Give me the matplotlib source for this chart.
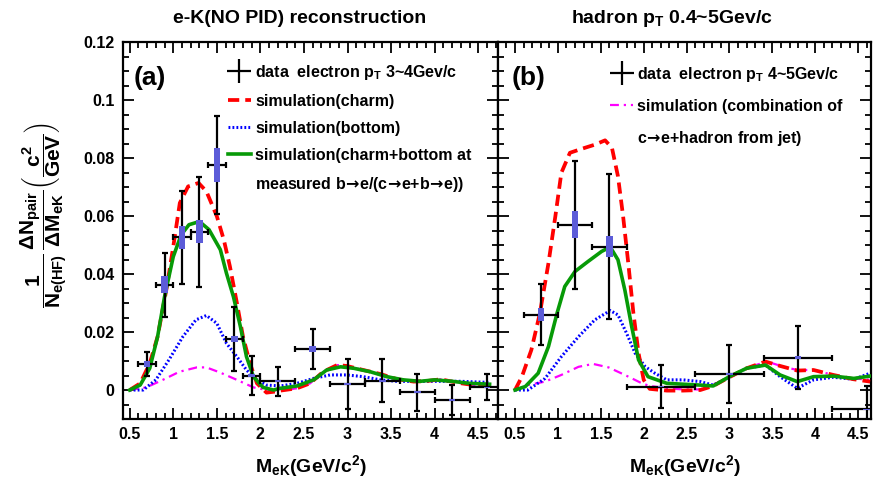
import numpy as np
import matplotlib
matplotlib.use('Agg')
import matplotlib.pyplot as plt
from matplotlib.lines import Line2D
from matplotlib.ticker import MultipleLocator, FuncFormatter

plt.rcParams['font.family'] = ['Liberation Sans', 'DejaVu Sans']
plt.rcParams['font.weight'] = 'bold'
plt.rcParams['axes.labelweight'] = 'bold'
plt.rcParams['mathtext.fontset'] = 'custom'
plt.rcParams['mathtext.rm'] = 'Liberation Sans:bold'
plt.rcParams['mathtext.it'] = 'Liberation Sans:bold'
plt.rcParams['mathtext.bf'] = 'Liberation Sans:bold'
plt.rcParams['mathtext.sf'] = 'DejaVu Sans'

# ---- panel (a): electron pT 3~4 GeV/c ----
x_a = [0.7, 0.9, 1.1, 1.3, 1.5, 1.7, 1.9, 2.2, 2.6, 3.0, 3.4, 3.8, 4.2, 4.6]
y_a = [0.0090, 0.0363, 0.0527, 0.0546, 0.0776, 0.0176, 0.0050, 0.0031,
       0.0141, 0.0020, 0.0032, -0.0008, -0.0035, 0.0009]
yerr_a = [0.004, 0.011, 0.016, 0.019, 0.017, 0.011, 0.0067, 0.005,
          0.007, 0.0087, 0.0074, 0.0064, 0.0052, 0.0045]
xerr_a = [0.1, 0.1, 0.1, 0.1, 0.1, 0.1, 0.1, 0.2, 0.2, 0.2, 0.2, 0.2, 0.2, 0.2]
sys_a = [0.001, 0.003, 0.004, 0.004, 0.0057, 0.001, 0.0005, 0.0004,
         0.001, 0.0003, 0.0003, 0.0003, 0.0003, 0.0003]

charm_xa = [0.5, 0.62, 0.73, 0.82, 0.92, 1.0, 1.075, 1.17, 1.29, 1.38, 1.5, 1.58,
            1.65, 1.73, 1.8, 1.88, 1.96, 2.07, 2.18, 2.23, 2.42, 2.57, 2.72, 2.88,
            2.99, 3.18, 3.38, 3.57, 3.76, 3.91, 4.07, 4.26, 4.45, 4.63]
charm_ya = [0, 0.0023, 0.0092, 0.0184, 0.0345, 0.0495, 0.0645, 0.0702, 0.0714,
            0.0685, 0.0599, 0.0518, 0.0426, 0.030, 0.0184, 0.0092, 0.0023, -0.0009,
            -0.0005, -0.0002, 0.0006, 0.0023, 0.0063, 0.0086, 0.0083, 0.0069,
            0.0055, 0.0037, 0.0029, 0.0031, 0.0037, 0.0025, 0.0017, 0.0017]
bottom_xa = [0.5, 0.655, 0.80, 0.95, 1.11, 1.26, 1.38, 1.5, 1.61, 1.73, 1.84, 1.96,
             2.07, 2.23, 2.42, 2.61, 2.8, 2.99, 3.18, 3.38, 3.57, 3.76, 4.0, 4.3, 4.63]
bottom_ya = [0, 0, 0.0035, 0.0104, 0.0184, 0.0242, 0.0257, 0.023, 0.0161, 0.0115,
             0.0069, 0.0035, 0.0017, 0.0014, 0.0023, 0.004, 0.0052, 0.0052, 0.0046,
             0.0035, 0.003, 0.003, 0.003, 0.003, 0.0026]
comb_xa = [0.5, 0.62, 0.73, 0.82, 0.90, 1.0, 1.09, 1.18, 1.30, 1.41, 1.54, 1.61,
           1.69, 1.77, 1.84, 1.92, 2.03, 2.15, 2.23, 2.42, 2.61, 2.76, 2.92, 3.07,
           3.26, 3.45, 3.64, 3.83, 4.0, 4.2, 4.4, 4.63]
comb_ya = [0, 0.0017, 0.0075, 0.0184, 0.0322, 0.046, 0.0535, 0.057, 0.0581, 0.0553,
           0.0484, 0.0403, 0.0322, 0.0219, 0.0115, 0.0046, 0.0009, 0.0, 0.0006,
           0.0014, 0.0035, 0.0069, 0.008, 0.0075, 0.0063, 0.0046, 0.0035, 0.003,
           0.0035, 0.003, 0.0023, 0.002]
jet_xa = [0.5, 0.69, 0.88, 1.07, 1.27, 1.38, 1.54, 1.73, 1.92, 2.07, 2.23, 2.42,
          2.57, 2.72, 2.88, 2.99, 3.18, 3.38, 3.57, 3.76, 3.91, 4.07, 4.26, 4.45, 4.63]
jet_ya = [0, 0.0009, 0.0035, 0.0063, 0.0078, 0.0078, 0.006, 0.0035, 0.0009, 0.0,
          -0.0002, 0.0006, 0.0023, 0.0063, 0.0086, 0.0083, 0.0069, 0.0055, 0.0037,
          0.0029, 0.0031, 0.0037, 0.0025, 0.0017, 0.0017]

# ---- panel (b): electron pT 4~5 GeV/c ----
x_b = [0.8, 1.2, 1.6, 2.2, 3.0, 3.8, 4.6]
y_b = [0.026, 0.057, 0.0494, 0.0012, 0.0056, 0.0112, -0.0067]
yerr_b = [0.0105, 0.022, 0.025, 0.0073, 0.010, 0.011, 0.008]
xerr_b = [0.2, 0.2, 0.2, 0.4, 0.4, 0.4, 0.4]
sys_b = [0.0023, 0.0046, 0.0037, 0.0003, 0.0004, 0.0005, 0.0003]

charm_xb = [0.5, 0.58, 0.69, 0.79, 0.89, 0.97, 1.04, 1.14, 1.28, 1.43, 1.55, 1.63,
            1.70, 1.76, 1.82, 1.88, 1.94, 2.0, 2.07, 2.27, 2.46, 2.66, 2.81, 3.01,
            3.2, 3.42, 3.59, 3.79, 3.98, 4.21, 4.45, 4.64]
charm_yb = [0, 0.0046, 0.0138, 0.0265, 0.0438, 0.0599, 0.0749, 0.0818, 0.0832,
            0.0846, 0.0861, 0.0835, 0.0737, 0.0599, 0.0438, 0.0265, 0.0127, 0.0035,
            0.0004, -0.0002, -0.0002, 0.0, 0.0014, 0.0046, 0.0075, 0.0098, 0.0083,
            0.0067, 0.0069, 0.0052, 0.0037, 0.0029]
bottom_xb = [0.5, 0.65, 0.85, 1.04, 1.24, 1.43, 1.61, 1.70, 1.80, 1.90, 2.02, 2.13,
             2.27, 2.46, 2.66, 2.81, 3.01, 3.2, 3.42, 3.59, 3.79, 3.98, 4.21, 4.45, 4.64]
bottom_yb = [0, 0, 0.004, 0.0115, 0.0184, 0.0242, 0.0274, 0.0259, 0.0196, 0.0127,
             0.008, 0.0058, 0.0035, 0.0035, 0.0029, 0.0017, 0.0046, 0.0075, 0.0086,
             0.0046, 0.0006, 0.0035, 0.0044, 0.0037, 0.0058]
comb_xb = [0.5, 0.62, 0.77, 0.89, 0.99, 1.08, 1.2, 1.35, 1.51, 1.61, 1.70, 1.78,
           1.86, 1.94, 2.05, 2.27, 2.46, 2.66, 2.81, 3.01, 3.2, 3.42, 3.59, 3.79,
           3.98, 4.21, 4.45, 4.64]
comb_yb = [0, 0.0012, 0.0058, 0.015, 0.0265, 0.0357, 0.0409, 0.0443, 0.0478, 0.0493,
           0.0449, 0.0345, 0.0219, 0.0104, 0.0046, 0.0023, 0.002, 0.0017, 0.0014,
           0.0048, 0.0075, 0.0086, 0.0052, 0.0029, 0.0046, 0.0048, 0.004, 0.0048]
jet_xb = [0.5, 0.65, 0.85, 1.04, 1.24, 1.41, 1.59, 1.78, 1.98, 2.07, 2.27, 2.46,
          2.66, 2.85, 3.05, 3.24, 3.44, 3.63, 3.79, 3.98, 4.21, 4.45, 4.64]
jet_yb = [0, 0.0017, 0.0029, 0.0052, 0.008, 0.009, 0.0078, 0.0052, 0.0023, 0.0014,
          0.0006, 0.0002, 0.0002, 0.0023, 0.0052, 0.008, 0.0098, 0.008, 0.0069,
          0.0069, 0.0052, 0.004, 0.0035]

RED, BLUE, GREEN, MAG, SYS = '#ff0000', '#0000ff', '#079a07', '#ff00ff', '#5c5cd8'

charm_style = dict(color=RED, lw=2.7, ls=(0, (3.0, 1.6)))
bottom_style = dict(color=BLUE, lw=2.2, ls=(0, (0.6, 0.7)))
comb_style = dict(color=GREEN, lw=2.6, ls='-')
jet_style = dict(color=MAG, lw=1.6, ls=(0, (4, 2.2, 1, 2.2)))

ARROW = r'$\!\mathsf{\rightarrow}\!$'


def style_axes(ax, xlim, show_ylabels):
    ax.set_xlim(*xlim)
    ax.set_ylim(-0.01, 0.12)
    ax.xaxis.set_major_locator(MultipleLocator(0.5))
    ax.xaxis.set_minor_locator(MultipleLocator(0.1))
    ax.yaxis.set_major_locator(MultipleLocator(0.02))
    ax.yaxis.set_minor_locator(MultipleLocator(0.005))
    fmt = FuncFormatter(lambda v, p: '%g' % round(v, 4))
    ax.xaxis.set_major_formatter(fmt)
    ax.yaxis.set_major_formatter(fmt)
    ax.tick_params(which='both', direction='in', top=True, right=True,
                   width=1.3, labelsize=11.5, pad=6)
    ax.tick_params(which='major', length=8)
    ax.tick_params(which='minor', length=4)
    ax.tick_params(axis='y', labelleft=show_ylabels)
    for s in ax.spines.values():
        s.set_linewidth(1.6)
    ax.set_xlabel(r'M$_{eK}$(GeV/c$^{2}$)', fontsize=14, labelpad=8)


def draw_data(ax, x, y, yerr, xerr, sys):
    ax.errorbar(x, y, yerr=yerr, xerr=xerr, fmt='none', ecolor='black',
                elinewidth=1.6, capsize=2.2, capthick=1.6, zorder=4)
    sys = np.asarray(sys)
    ax.bar(x, 2 * sys, bottom=np.asarray(y) - sys, width=0.075, color=SYS,
           zorder=5)


fig = plt.figure(figsize=(8.73, 4.78), dpi=100)
ax_a = fig.add_axes([0.1406, 0.1234, 0.4302, 0.7887])
ax_b = fig.add_axes([0.5708, 0.1234, 0.4269, 0.7887])

# panel (a)
ax_a.plot(jet_xa, jet_ya, **jet_style, zorder=2)
ax_a.plot(bottom_xa, bottom_ya, **bottom_style, zorder=2)
ax_a.plot(charm_xa, charm_ya, **charm_style, zorder=3)
ax_a.plot(comb_xa, comb_ya, **comb_style, zorder=3)
draw_data(ax_a, x_a, y_a, yerr_a, xerr_a, sys_a)
style_axes(ax_a, (0.42, 4.73), True)

ax_a.set_ylabel(r'$\dfrac{1}{N_{e(HF)}}\,\dfrac{\Delta N_{pair}}{\Delta M_{eK}}\left(\dfrac{c^{2}}{GeV}\right)$',
                fontsize=15)
ax_a.yaxis.set_label_coords(-0.14, 0.54)

data_h = Line2D([], [], color='black', marker='+', ms=17, mew=1.6, ls='none')
blank = Line2D([], [], color='none')
hand_a = [data_h, Line2D([], [], **charm_style), Line2D([], [], **bottom_style),
          Line2D([], [], **comb_style), blank]
lab_a = [r'data  electron p$_{T}$ 3~4Gev/c', 'simulation(charm)', 'simulation(bottom)',
         'simulation(charm+bottom at',
         'measured b' + ARROW + 'e/(c' + ARROW + 'e+b' + ARROW + 'e))']
ax_a.legend(hand_a, lab_a, loc='upper left', bbox_to_anchor=(0.28, 0.945),
            frameon=False, fontsize=11.5, handlelength=1.45, handletextpad=0.25,
            labelspacing=0.75, borderpad=0, borderaxespad=0)
ax_a.text(0.03, 0.905, '(a)', transform=ax_a.transAxes, fontsize=19,
          fontweight='bold', va='center', ha='left')

# panel (b)
ax_b.plot(jet_xb, jet_yb, **jet_style, zorder=2)
ax_b.plot(bottom_xb, bottom_yb, **bottom_style, zorder=2)
ax_b.plot(charm_xb, charm_yb, **charm_style, zorder=3)
ax_b.plot(comb_xb, comb_yb, **comb_style, zorder=3)
draw_data(ax_b, x_b, y_b, yerr_b, xerr_b, sys_b)
style_axes(ax_b, (0.305, 4.65), False)

hand_b = [data_h, Line2D([], [], **jet_style), blank]
lab_b = [r'data  electron p$_{T}$ 4~5Gev/c', 'simulation (combination of',
         'c' + ARROW + 'e+hadron from jet)']
ax_b.legend(hand_b, lab_b, loc='upper left', bbox_to_anchor=(0.3, 0.94),
            frameon=False, fontsize=11.5, handlelength=1.45, handletextpad=0.25,
            labelspacing=0.95, borderpad=0, borderaxespad=0)
ax_b.text(0.036, 0.905, '(b)', transform=ax_b.transAxes, fontsize=19,
          fontweight='bold', va='center', ha='left')

fig.text(0.343, 0.962, 'e-K(NO PID) reconstruction', fontsize=14,
         fontweight='bold', ha='center', va='center')
fig.text(0.770, 0.962, r'hadron p$_{T}$ 0.4~5Gev/c', fontsize=14,
         fontweight='bold', ha='center', va='center')

fig.savefig('out.png', dpi=100)
